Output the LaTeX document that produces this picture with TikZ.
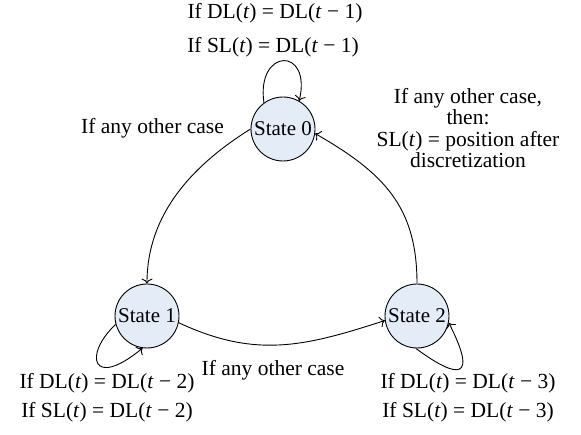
\documentclass[tikz,border=0pt]{standalone}
\usepackage{fontspec}
\setmainfont{Liberation Serif}
\usepackage{xcolor}
\usepackage{tikz}
\usetikzlibrary{shapes, arrows.meta, positioning, calc}

\definecolor{stateblue}{HTML}{E4ECF7}
\tikzset{
  state/.style={circle, draw=black, fill=stateblue, line width=0.9pt,
    minimum size=64pt, inner sep=0pt, font=\fontsize{21}{24}\selectfont},
  lbl/.style={inner sep=0pt, font=\fontsize{21.5}{21.5}\selectfont},
  trans/.style={-{To[length=5pt,width=11pt]}, line width=0.9pt}
}

\begin{document}
\begin{tikzpicture}[x=1pt, y=-1pt]
  \useasboundingbox (0,0) rectangle (581,435);

  % State centres
  \coordinate (P0) at (283,129);
  \coordinate (P1) at (147,316);
  \coordinate (P2) at (417,316);

  % States
  \node[state] (S0) at (P0) {State 0};
  \node[state] (S1) at (P1) {State 1};
  \node[state] (S2) at (P2) {State 2};

  % Transitions between states
  \draw[trans] (S0.180) to[out=212, in=90, looseness=0.95] (S1.north);
  \draw[trans] (S1.-12) to[out=-25, in=198, looseness=1.05] (S2.188);
  \draw[trans] (S2.north) to[out=90, in=-30, looseness=1.1] (S0.-8);

  % Self loops
  \draw[trans] (S0.126) .. controls (256,48) and (312,46) .. (S0.60);
  \draw[trans] (S1.195) .. controls (83,355) and (92,390) .. (S1.262);
  \draw[trans] (S2.268) .. controls (445,370) and (484,392) .. (S2.-12);

  % Loop labels
  \node[lbl] (l0a) at (275,13) {If DL(\textit{t}) = DL(\textit{t} − 1)};
  \node[lbl] (l0b) at (273,47) {If SL(\textit{t}) = DL(\textit{t} − 1)};
  \node[lbl] (l1a) at (107,383) {If DL(\textit{t}) = DL(\textit{t} − 2)};
  \node[lbl] (l1b) at (107,412) {If SL(\textit{t}) = DL(\textit{t} − 2)};
  \node[lbl] (l2a) at (468,383) {If DL(\textit{t}) = DL(\textit{t} − 3)};
  \node[lbl] (l2b) at (468,412) {If SL(\textit{t}) = DL(\textit{t} − 3)};

  % Transition labels
  \node[lbl, anchor=east] (e01) at (224,128) {If any other case};
  \node[lbl] (e12) at (273,370) {If any other case};
  \node[lbl, align=center] (e20) at (468,128)
    {If any other case,\\then:\\SL(\textit{t}) = position after\\discretization};
\end{tikzpicture}
\end{document}
